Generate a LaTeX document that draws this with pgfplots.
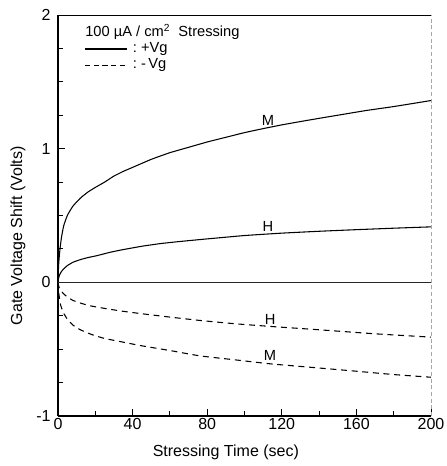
\documentclass[border=0pt]{standalone}
\usepackage{fontspec}
\setmainfont{Liberation Sans}
\usepackage{pgfplots}
\pgfplotsset{compat=1.18}
\begin{document}
\begin{tikzpicture}
\begin{axis}[
  scale only axis, width=279.75pt, height=300.75pt,
  xmin=0, xmax=200, ymin=-1, ymax=2,
  axis x line*=bottom, axis y line*=left,
  axis line style={line width=0.8pt},
  xtick={0,40,80,120,160,200}, xticklabels={0,40,80,120,160,200},
  ytick={-1,0,1,2}, yticklabels={-1,0,1,2},
  minor x tick num=1, minor y tick num=3,
  tick align=inside,
  major tick length=5pt, minor tick length=4pt,
  every tick/.style={black, line width=0.7pt},
  tick label style={font=\fontsize{12}{14}\selectfont},
  xticklabel style={yshift=2pt},
  yticklabel style={xshift=-2pt},
  xlabel={Stressing Time (sec)},
  ylabel={Gate Voltage Shift (Volts)},
  label style={font=\fontsize{12}{14}\selectfont},
  xlabel style={at={(axis description cs:0.45,0)}, anchor=center, yshift=-27pt},
  ylabel style={at={(axis description cs:-0.1075,0.449)}, anchor=center},
  clip=false,
]
% M, +Vg
\addplot[black, line width=0.8pt, smooth, tension=0.3] coordinates {
(0,0)(0.3,0.12)(0.6,0.18)(1,0.24)(1.8,0.33)(3,0.42)(5,0.50)(8,0.57)(12,0.63)
(16,0.675)(20,0.71)(25,0.75)(30,0.795)(35,0.83)(40,0.86)(50,0.92)(60,0.97)
(70,1.01)(80,1.05)(90,1.085)(100,1.12)(110,1.15)(120,1.178)(135,1.215)(150,1.25)
(165,1.285)(180,1.315)(200,1.36)};
% H, +Vg
\addplot[black, line width=0.8pt, smooth, tension=0.3] coordinates {
(0,0)(0.3,0.03)(0.6,0.045)(1,0.06)(1.8,0.08)(3,0.10)(5,0.125)(8,0.15)(12,0.17)
(16,0.185)(21,0.20)(28,0.225)(35,0.245)(45,0.27)(55,0.29)(65,0.305)(80,0.325)
(100,0.35)(120,0.368)(140,0.382)(160,0.394)(180,0.405)(200,0.415)};
% H, -Vg
\addplot[black, line width=0.8pt, smooth, tension=0.3, dash pattern=on 4.5pt off 3.5pt] coordinates {
(0,0)(0.5,-0.035)(1.4,-0.06)(3,-0.085)(5,-0.11)(8,-0.135)(12,-0.155)(17,-0.175)
(25,-0.195)(34,-0.215)(45,-0.235)(60,-0.26)(76,-0.285)(95,-0.31)(114,-0.33)
(140,-0.355)(170,-0.385)(200,-0.41)};
% M, -Vg
\addplot[black, line width=0.8pt, smooth, tension=0.3, dash pattern=on 4.5pt off 3.5pt] coordinates {
(0,0)(0.5,-0.09)(1.4,-0.17)(3,-0.23)(5,-0.275)(8,-0.32)(12,-0.355)(18,-0.39)
(25,-0.42)(34,-0.445)(45,-0.475)(60,-0.51)(76,-0.55)(95,-0.58)(114,-0.61)
(135,-0.635)(160,-0.665)(180,-0.69)(200,-0.71)};
% frame and zero line
\draw[black, line width=0.6pt] (rel axis cs:0,1) -- (rel axis cs:1,1);
\draw[gray!70, line width=0.6pt, densely dashed] (rel axis cs:1,0) -- (rel axis cs:1,1);
\draw[black!85, line width=0.9pt] (axis cs:0,0) -- (axis cs:200,0);
% curve labels
\node[anchor=south, inner sep=1pt, font=\fontsize{11}{13}\selectfont] at (axis cs:112.6,1.16) {M};
\node[anchor=south, inner sep=1pt, font=\fontsize{11}{13}\selectfont] at (axis cs:112.6,0.365) {H};
\node[anchor=south, inner sep=1pt, font=\fontsize{11}{13}\selectfont] at (axis cs:113.7,-0.325) {H};
\node[anchor=south, inner sep=1pt, font=\fontsize{11}{13}\selectfont] at (axis cs:113.7,-0.60) {M};
% legend
\node[anchor=west, inner sep=0pt, font=\fontsize{11}{13}\selectfont] at (axis cs:14.5,1.875) {100 µA / cm\textsuperscript{2}\ \ Stressing};
\draw[black, line width=0.9pt] (axis cs:14.5,1.745) -- (axis cs:37,1.745);
\node[anchor=west, inner sep=0pt, font=\fontsize{11}{13}\selectfont] at (axis cs:40,1.745) {:\ +Vg};
\draw[black, line width=0.8pt, dash pattern=on 4pt off 2.5pt] (axis cs:14.5,1.625) -- (axis cs:37,1.625);
\node[anchor=west, inner sep=0pt, font=\fontsize{11}{13}\selectfont] at (axis cs:40,1.625) {:\ -\,Vg};
\end{axis}
\pgfresetboundingbox
\path ([shift={(-43.5pt,-37.5pt)}]current axis.south west) rectangle ([shift={(11.25pt,11.25pt)}]current axis.north east);
\end{tikzpicture}
\end{document}
